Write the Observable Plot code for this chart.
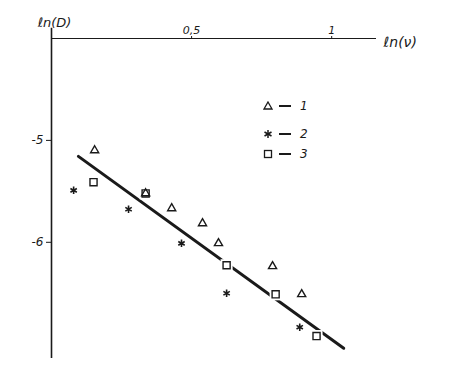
<!DOCTYPE html>
<html>
<head>
<meta charset="utf-8">
<script src="https://cdn.jsdelivr.net/npm/d3@7"></script>
<script src="https://cdn.jsdelivr.net/npm/@observablehq/plot@0.6"></script>
<style>
  html, body { margin: 0; padding: 0; background: #fff; }
  #wrap { position: relative; width: 459px; height: 379px; }
  .leg { position: absolute; display: flex; align-items: center; font: italic 12px "DejaVu Sans", sans-serif; color: #1a1a1a; }
  .leg svg { display: block; }
  .leg .dash { margin: 0 9px 0 6px; width: 12px; height: 1.4px; background: #1a1a1a; }
</style>
</head>
<body>
<div id="wrap"></div>
<script>
// Series 1 (triangles)
const lnV1 = [0.154, 0.336, 0.429, 0.539, 0.596, 0.789, 0.893];
const lnD1 = [-5.098, -5.52, -5.667, -5.814, -6.01, -6.235, -6.51];
// Series 2 (asterisks)
const lnV2 = [0.079, 0.275, 0.464, 0.625, 0.886];
const lnD2 = [-5.49, -5.676, -6.01, -6.50, -6.833];
// Series 3 (squares)
const lnV3 = [0.15, 0.336, 0.625, 0.80, 0.946];
const lnD3 = [-5.41, -5.52, -6.225, -6.51, -6.92];
// Fitted straight line (end points)
const fitLnV = [0.096, 1.043];
const fitLnD = [-5.157, -7.04];
// Axis ticks
const xTicks = [0.5, 1];
const yTicks = [-5, -6];

const ink = "#1a1a1a";
const pts = (xs, ys) => xs.map((x, i) => ({x, y: ys[i]}));
const s1 = pts(lnV1, lnD1), s2 = pts(lnV2, lnD2), s3 = pts(lnV3, lnD3);
const fit = pts(fitLnV, fitLnD);

const chart = Plot.plot({
  width: 459,
  height: 379,
  marginLeft: 51,
  marginRight: 83,
  marginTop: 38,
  marginBottom: 20,
  style: {fontFamily: "DejaVu Sans, sans-serif", fontStyle: "italic", fontSize: "11px", color: ink, background: "#fff"},
  x: {domain: [0, 1.16]},
  y: {domain: [-7.15, -4]},
  marks: [
    // axes drawn as crossing lines
    Plot.ruleY([-4], {x1: 0, x2: 1.16, stroke: ink, strokeWidth: 1.2}),
    Plot.ruleX([0], {y1: -3.9, y2: -7.14, stroke: ink, strokeWidth: 1.6}),
    Plot.axisX({anchor: "top", ticks: xTicks, tickSize: 3, tickPadding: 2, tickFormat: d => String(d).replace(".", ","), label: null}),
    Plot.axisY({anchor: "left", ticks: yTicks, tickSize: 5, tickPadding: 3, tickFormat: d => String(d), fontSize: 12, label: null}),
    Plot.text(["ℓn(D)"], {frameAnchor: "top-left", dx: 3, dy: -21, textAnchor: "middle", fontSize: 13, fill: ink}),
    Plot.text(["ℓn(ν)"], {frameAnchor: "top-right", dx: 7, dy: -1, textAnchor: "start", fontSize: 14, fill: ink}),
    // fitted line
    Plot.line(fit, {x: "x", y: "y", stroke: ink, strokeWidth: 3}),
    // white gaps around squares
    Plot.dot(s3, {x: "x", y: "y", symbol: "square", r: 6.8, fill: "#fff", stroke: null}),
    Plot.dot(s1, {x: "x", y: "y", symbol: "triangle", r: 3, fill: "none", stroke: ink, strokeWidth: 1.4}),
    Plot.dot(s2, {x: "x", y: "y", symbol: "asterisk", r: 3.5, stroke: ink, strokeWidth: 1.6}),
    Plot.dot(s3, {x: "x", y: "y", symbol: "square", r: 4, fill: "none", stroke: ink, strokeWidth: 1.4})
  ]
});

const wrap = document.getElementById("wrap");
wrap.appendChild(chart);

// legend
const legendItems = [
  {name: "1", top: 99, svg: '<polygon points="5,1 9,8 1,8" fill="none" stroke="#1a1a1a" stroke-width="1.3"/>'},
  {name: "2", top: 127, svg: '<g stroke="#1a1a1a" stroke-width="1.5"><line x1="5" y1="1" x2="5" y2="9"/><line x1="1.5" y1="3" x2="8.5" y2="7"/><line x1="1.5" y1="7" x2="8.5" y2="3"/></g>'},
  {name: "3", top: 147, svg: '<rect x="1.5" y="1.5" width="7" height="7" fill="none" stroke="#1a1a1a" stroke-width="1.3"/>'}
];
for (const it of legendItems) {
  const d = document.createElement("div");
  d.className = "leg";
  d.style.left = "263px";
  d.style.top = it.top + "px";
  d.innerHTML = `<svg width="10" height="10">${it.svg}</svg><span class="dash"></span><span>${it.name}</span>`;
  wrap.appendChild(d);
}
</script>
</body>
</html>
